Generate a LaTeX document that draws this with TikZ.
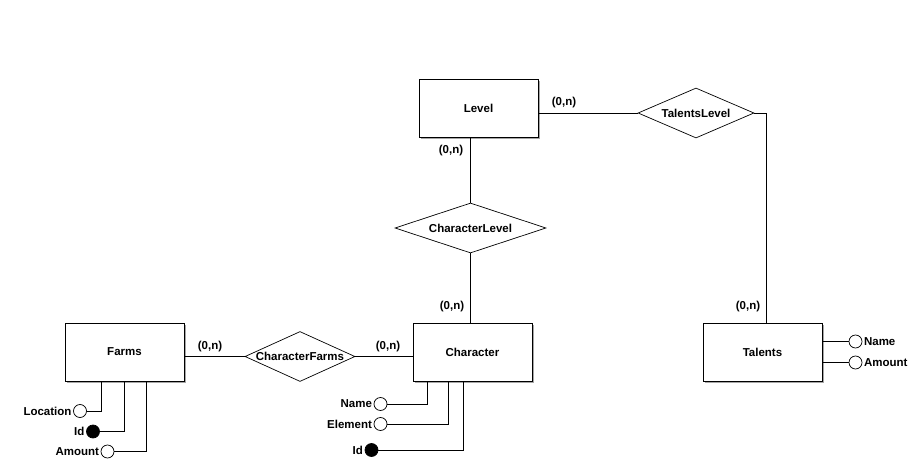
\documentclass[tikz,border=0pt]{standalone}
\usepackage{fontspec}
\setmainfont{Liberation Sans}
\usetikzlibrary{shapes.geometric,shadows}
\begin{document}
\begin{tikzpicture}[x=1pt,y=-1pt,
  every node/.style={font=\fontsize{11.5}{13}\selectfont\bfseries},
  entity/.style={draw,fill=white,line width=0.8pt,minimum width=119pt,minimum height=58pt,inner sep=0pt,
    drop shadow={shadow xshift=2pt,shadow yshift=-2pt,fill=gray!70,opacity=1}},
  rel/.style={draw,fill=white,diamond,line width=0.7pt,inner sep=0pt},
  attr/.style={draw,circle,line width=0.7pt,minimum size=13pt,inner sep=0pt,fill=white},
  keyattr/.style={attr,fill=black},
  card/.style={inner sep=0pt},
  conn/.style={line width=0.8pt},
  lbl/.style={label distance=0pt}
]
\useasboundingbox (0,0) rectangle (919,463);

% entities
\node[entity] (farms) at (124.5,352) {Farms};
\node[entity] (char) at (472.5,352) {Character};
\node[entity] (level) at (478.5,108) {Level};
\node[entity] (tal) at (762.5,352) {Talents};

% relationships
\node[rel,minimum width=151pt,minimum height=50pt,label=center:CharacterLevel] (cl) at (470.5,228) {};
\node[rel,minimum width=116pt,minimum height=50pt,label=center:TalentsLevel] (tl) at (696,113) {};
\node[rel,minimum width=110pt,minimum height=50pt,label=center:CharacterFarms] (cf) at (300,356.5) {};

\coordinate (tlc) at (766.5,113);

% connectors
\draw[conn] (cl.north) -- (cl.north |- level.south);
\draw[conn] (cl.south) -- (cl.south |- char.north);
\draw[conn] (tl.west -| level.east) -- (tl.west);
\draw[conn] (tl.east) -- (tlc) -- (tlc |- tal.north);
\draw[conn] (cf.west -| farms.east) -- (cf.west);
\draw[conn] (cf.east) -- (cf.east -| char.west);

% cardinalities
\node[card] (c1) at (210,347) {(0,n)};
\node[card] (c2) at (388,347) {(0,n)};
\node[card] (c3) at (564,103) {(0,n)};
\node[card] (c4) at (451,151) {(0,n)};
\node[card] (c5) at (452,307) {(0,n)};
\node[card] (c6) at (748,307) {(0,n)};

% Farms attributes
\node[attr,label={[inner sep=1.5pt]left:Location}] (floc) at (80,411) {};
\node[keyattr,label={[inner sep=1.5pt]left:Id}] (fid) at (93,431.5) {};
\node[attr,label={[inner sep=1.5pt]left:Amount}] (famt) at (107.5,451.5) {};
\draw[conn] (floc.east) -| ([xshift=36.5pt]farms.south west);
\draw[conn] (fid.east) -| ([xshift=59.5pt]farms.south west);
\draw[conn] (famt.east) -| ([xshift=81.5pt]farms.south west);

% Character attributes
\node[attr,label={[inner sep=1.5pt]left:Name}] (cname) at (380.5,404) {};
\node[attr,label={[inner sep=1.5pt]left:Element}] (celem) at (380.5,424) {};
\node[keyattr,label={[inner sep=1.5pt]left:Id}] (cid) at (371.5,450) {};
\draw[conn] (cname.east) -| ([xshift=14.3pt]char.south west);
\draw[conn] (celem.east) -| ([xshift=35.3pt]char.south west);
\draw[conn] (cid.east) -| ([xshift=50.3pt]char.south west);

% Talents attributes
\node[attr,label={[inner sep=1.5pt]right:Name}] (tname) at (855.5,341.5) {};
\node[attr,label={[inner sep=1.5pt]right:Amount}] (tamt) at (855.5,362.5) {};
\draw[conn] (tname.west) -- (tname.west -| tal.east);
\draw[conn] (tamt.west) -- (tamt.west -| tal.east);
\end{tikzpicture}
\end{document}
